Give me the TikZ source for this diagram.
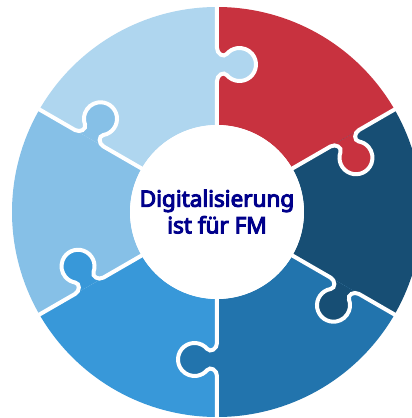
\documentclass[tikz,border=0pt]{standalone}
\usepackage{fontspec}
\newfontfamily\titlefont{Noto Sans}[FakeBold=4.5]
\begin{document}
\begin{tikzpicture}[x=1pt,y=1pt,
    seam/.style={white, line width=4pt},
    label/.style={text=txtBlue, font=\titlefont\fontsize{22.5}{26}\selectfont, inner sep=0pt, anchor=base}]
  \definecolor{pRed}{HTML}{C8323F}
  \definecolor{pNavy}{HTML}{174E74}
  \definecolor{pMed}{HTML}{2274AD}
  \definecolor{pBright}{HTML}{3898D9}
  \definecolor{pLight}{HTML}{86C0E7}
  \definecolor{pPale}{HTML}{AFD6EF}
  \definecolor{txtBlue}{RGB}{0,0,139}
  % frame
  \fill[white] (-217,-206) rectangle (195,212);
  \useasboundingbox (-217,-206) rectangle (195,212);
  \clip (-217,-206) rectangle (195,212);
  % ring sectors, each starting at its clockwise edge
  \foreach \a/\c in {30/pRed, -30/pNavy, -90/pMed, -150/pBright, 150/pLight, 90/pPale} {
    \fill[\c] (\a:87) -- (\a:205)
      arc[start angle=\a, end angle=\a+60, radius=205]
      -- (\a+60:87)
      arc[start angle=\a+60, end angle=\a, radius=87] -- cycle;
  }
  % tabs reaching into the clockwise neighbour, plus the white seams
  \foreach \a/\c in {30/pRed, -30/pNavy, -90/pMed, -150/pBright, 150/pLight, 90/pPale} {
    \begin{scope}[rotate=\a]
      \fill[\c] (131,0) .. controls (137,0) and (140.72,-6.65) .. (136.89,-9.86)
        arc[start angle=130, end angle=410, radius=16.5]
        .. controls (154.28,-6.65) and (158,0) .. (164,0) -- cycle;
      \draw[seam] (80,0) -- (131,0)
        .. controls (137,0) and (140.72,-6.65) .. (136.89,-9.86)
        arc[start angle=130, end angle=410, radius=16.5]
        .. controls (154.28,-6.65) and (158,0) .. (164,0) -- (212,0);
    \end{scope}
  }
  % centre disc and title
  \fill[white] (0,0) circle (87);
  \node[label] (title1) at (0,5.3) {Digitalisierung};
  \node[label] (title2) at (0,-21.3) {ist für FM};
\end{tikzpicture}
\end{document}
